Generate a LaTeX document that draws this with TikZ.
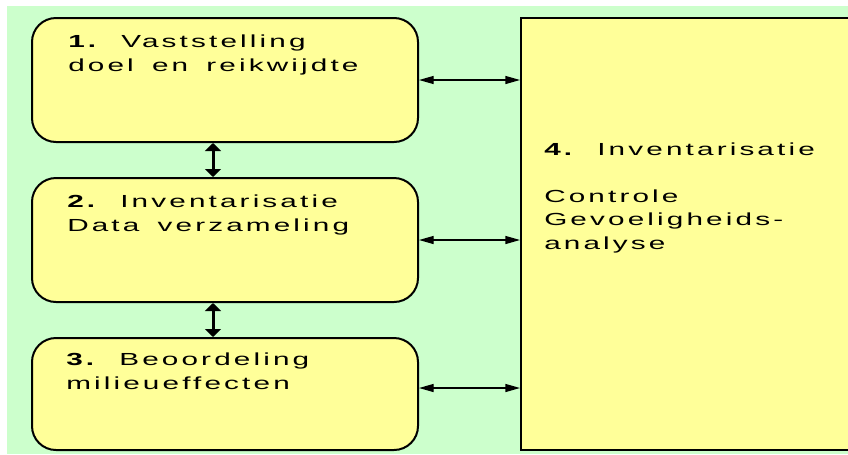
\documentclass[tikz,border=0pt]{standalone}
\usepackage{fontspec}
\setmainfont{Liberation Sans}[FakeStretch=1.7,LetterSpace=18,WordSpace=1.6]
\usetikzlibrary{arrows.meta,calc}
\definecolor{lcagreen}{HTML}{CCFFCC}
\definecolor{lcayellow}{HTML}{FFFF99}
\tikzset{stage/.style={draw=black,line width=1.5pt,fill=lcayellow,rounded corners=18pt,inner sep=0pt},
 bigstage/.style={draw=black,line width=1.5pt,fill=lcayellow,inner sep=0pt},
 stagetext/.style={anchor=base west,align=left,inner sep=0pt,font=\fontsize{13.1}{17.6}\selectfont},
 link/.style={{Triangle[length=11pt,width=6pt]}-{Triangle[length=11pt,width=6pt]},line width=1pt},
 steplink/.style={{Triangle[length=6pt,width=12pt]}-{Triangle[length=6pt,width=12pt]},line width=2.25pt},
 }

\begin{document}
\begin{tikzpicture}[x=0.75pt,y=-0.75pt]
        \clip (0,0) rectangle (848,454);
        \fill[white] (0,0) rectangle (848,454);
        \fill[lcagreen] (7,6) rectangle (848,454);

        \node[stage, minimum width=289.5pt, minimum height=93pt] (box1) at (225,80) {};
        \node[stage, minimum width=289.5pt, minimum height=93pt] (box2) at (225,240) {};
        \node[stage, minimum width=289.5pt, minimum height=84pt] (box3) at (225,394) {};
        \node[bigstage, minimum width=261.75pt, minimum height=324pt] (box4) at (695.5,234) {};

        \node[stagetext] (text1) at ($(box1.north west)+(37,54)$) {\textbf{1.} Vaststelling\\doel en reikwijdte};
        \node[stagetext] (text2) at ($(box2.north west)+(36,54)$) {\textbf{2.} Inventarisatie\\Data verzameling};
        \node[stagetext] (text3) at ($(box3.north west)+(35,52)$) {\textbf{3.} Beoordeling\\milieueffecten};
        \node[stagetext] (text4) at ($(box4.north west)+(24,232)$) {\textbf{4.} Inventarisatie\\[17.6pt]Controle\\Gevoeligheids-\\analyse};

        \draw[steplink] ([xshift=-9pt]box1.south) -- ([xshift=-9pt]box2.north);
        \draw[steplink] ([xshift=-9pt]box2.south) -- ([xshift=-9pt]box3.north);

        \draw[link] (box1.east) -- (box1.east -| box4.west);
        \draw[link] (box2.east) -- (box2.east -| box4.west);
        \draw[link] ([yshift=4.5pt]box3.east) -- ([yshift=4.5pt]box3.east -| box4.west);
    \end{tikzpicture}
\end{document}
